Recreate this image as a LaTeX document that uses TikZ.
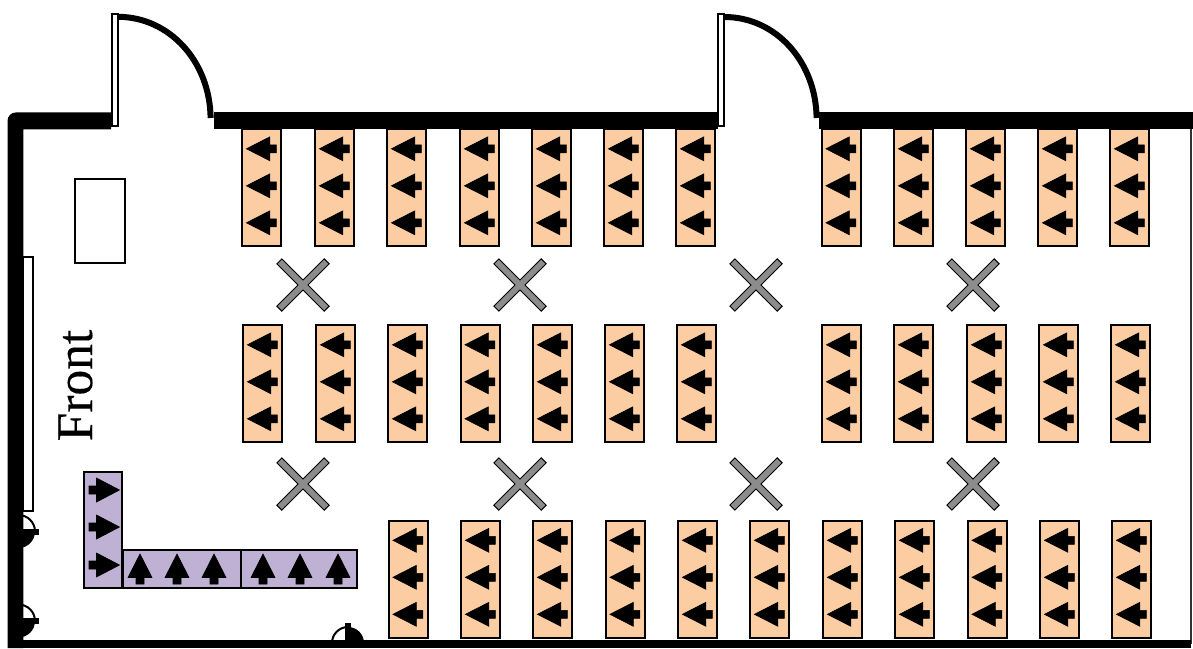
\documentclass[tikz,border=0pt]{standalone}
\usepackage{fontspec}
\setmainfont{Liberation Serif}
\definecolor{deskorange}{HTML}{FCCDA2}
\definecolor{deskpurple}{HTML}{BFB1D3}
\definecolor{xgrey}{HTML}{8C8C8C}
\tikzset{
  desk/.style={draw=black,line width=2pt,fill=deskorange},
  teacherdesk/.style={draw=black,line width=2pt,fill=deskpurple},
  wall/.style={fill=black,draw=none},
  plainbox/.style={draw=black,line width=2pt,fill=white},
  swing/.style={draw=black,line width=6pt},
  outletline/.style={draw=black,line width=2pt,fill=white},
  arrowfill/.style={fill=black,draw=black,line width=.6pt,line join=miter},
}
\newcommand{\arrowL}[2]{\path[arrowfill] (#1,#2) -- ++(23.5,-12) -- ++(0,8) -- ++(6.5,0) -- ++(0,8) -- ++(-6.5,0) -- ++(0,8) -- cycle;}
\newcommand{\arrowR}[2]{\path[arrowfill] (#1,#2) -- ++(-23,-12) -- ++(0,8) -- ++(-7.5,0) -- ++(0,8) -- ++(7.5,0) -- ++(0,8) -- cycle;}
\newcommand{\arrowU}[2]{\path[arrowfill] (#1,#2) -- ++(12,23.5) -- ++(-8,0) -- ++(0,6.5) -- ++(-8,0) -- ++(0,-6.5) -- ++(-8,0) -- cycle;}
\newcommand{\deskat}[2]{%
  \path[desk] (#1+.4,#2+.4) rectangle (#1+39,#2+117.4);
  \arrowL{#1+4.4}{#2+19.8}\arrowL{#1+4.4}{#2+56.8}\arrowL{#1+4.4}{#2+93.8}}
\newcommand{\crossat}[2]{%
  \draw[black,line width=8pt] (#1-24,#2-24) -- (#1+24,#2+24);
  \draw[black,line width=8pt] (#1-24,#2+24) -- (#1+24,#2-24);
  \draw[xgrey,line width=5.8pt] (#1-23.2,#2-23.2) -- (#1+23.2,#2+23.2);
  \draw[xgrey,line width=5.8pt] (#1-23.2,#2+23.2) -- (#1+23.2,#2-23.2);}
\newcommand{\outletW}[1]{%
  \path[outletline] (2,#1) arc[start angle=180,end angle=360,radius=16.5] -- cycle;
  \fill[black] (2,#1) arc[start angle=180,end angle=0,radius=16.5] -- cycle;
  \fill[black] (20,#1-2.7) rectangle (39,#1+3);}
\begin{document}
\begin{tikzpicture}[x=1pt,y=-1pt]
\useasboundingbox (0,0) rectangle (1193,648);
% outlets
\begin{scope}
\clip (8,500) rectangle (60,648);
\outletW{531.5}
\outletW{621}
\end{scope}
\path[outletline] (332,643) arc[start angle=180,end angle=270,radius=16] -- (348,643) -- cycle;
\fill[black] (348,627) arc[start angle=270,end angle=360,radius=16] -- (348,643) -- cycle;
\fill[black] (345,623.3) rectangle (350.5,640);
% right side line
\draw[black!80,line width=2pt] (1190.6,122) -- (1190.6,644);
% walls
\fill[wall] (111,112.4) -- (16,112.4) arc[start angle=270,end angle=180,radius=8.5] -- (7.5,648) -- (23.4,648) -- (23.4,129.4) -- (111,129.4) -- cycle;
\fill[wall] (213.5,112.4) rectangle (717.5,129.4);
\fill[wall] (819.2,112.4) rectangle (1193,129.4);
\fill[wall] (8,639.6) rectangle (1191,648);
% screen and table
\path[plainbox] (23.4,257.3) rectangle (33.4,510.7);
\path[plainbox] (75,179) rectangle (125.4,262.8);
% doors
\path[swing] (118,16.8) .. controls (170,17) and (210,62) .. (210.6,118);
\path[swing] (724.5,17) .. controls (776,17) and (816,62) .. (816.6,118);
\path[plainbox] (111.6,14.4) rectangle (118,125.6);
\path[plainbox] (717.8,14.4) rectangle (724.3,125.6);
% desks
\foreach \x in {242,315,387,460,532,604,676,821.5,894,966,1038,1110} {\deskat{\x}{129}}
\foreach \x in {243,316,388,460.5,533,605,677,822,894,967,1039,1111} {\deskat{\x}{325}}
\foreach \x in {388.5,461,533,605.5,678,750,823,895,967.5,1040,1112} {\deskat{\x}{520.5}}
% crosses
\foreach \x in {303,520,756,973} {\crossat{\x}{285}\crossat{\x}{484}}
% teaching desks
\path[teacherdesk] (83.6,471.6) rectangle (122,588);
\path[teacherdesk] (122.8,550.2) rectangle (240.5,588);
\path[teacherdesk] (240.5,550.2) rectangle (357.4,588);
\arrowR{119.5}{490}\arrowR{119.5}{527}\arrowR{119.5}{565}
\foreach \x in {140,177,214,263,300,338} {\arrowU{\x}{554}}
% label
\node[rotate=90,font=\fontsize{51.5}{51.5}\selectfont,inner sep=0pt,anchor=base] (front) at (92,385.5) {\addfontfeature{FakeBold=0.25}Front};
\end{tikzpicture}
\end{document}
